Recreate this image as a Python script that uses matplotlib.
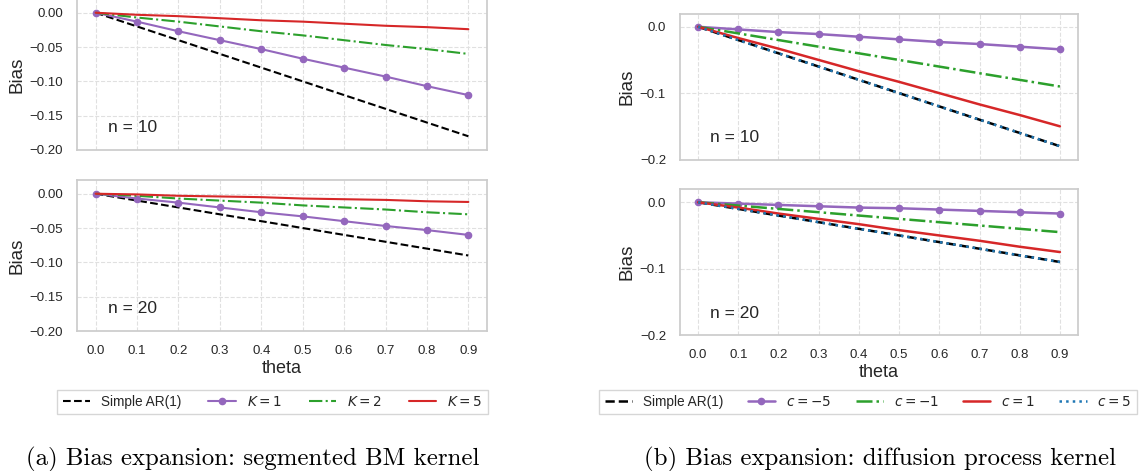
import numpy as np
import matplotlib
matplotlib.use("Agg")
import matplotlib.pyplot as plt
import seaborn as sns

# theta grid
theta = [0.0, 0.1, 0.2, 0.3, 0.4, 0.5, 0.6, 0.7, 0.8, 0.9]

# (a) segmented BM kernel
ar1_n10 = [0.0, -0.020, -0.040, -0.060, -0.080, -0.100, -0.120, -0.140, -0.160, -0.180]
k1_n10 = [0.0, -0.013, -0.027, -0.040, -0.053, -0.067, -0.080, -0.093, -0.107, -0.120]
k2_n10 = [0.0, -0.007, -0.013, -0.020, -0.027, -0.033, -0.040, -0.047, -0.053, -0.060]
k5_n10 = [0.0, -0.003, -0.005, -0.008, -0.011, -0.013, -0.016, -0.019, -0.021, -0.024]

ar1_n20 = [0.0, -0.010, -0.020, -0.030, -0.040, -0.050, -0.060, -0.070, -0.080, -0.090]
k1_n20 = [0.0, -0.007, -0.013, -0.020, -0.027, -0.033, -0.040, -0.047, -0.053, -0.060]
k2_n20 = [0.0, -0.003, -0.007, -0.010, -0.013, -0.017, -0.020, -0.023, -0.027, -0.030]
k5_n20 = [0.0, -0.001, -0.003, -0.004, -0.005, -0.007, -0.008, -0.009, -0.011, -0.012]

# (b) diffusion process kernel
cm5_n10 = [0.0, -0.004, -0.008, -0.011, -0.015, -0.019, -0.023, -0.026, -0.030, -0.034]
cm1_n10 = [0.0, -0.010, -0.020, -0.030, -0.040, -0.050, -0.060, -0.070, -0.080, -0.090]
c1_n10 = [0.0, -0.017, -0.033, -0.050, -0.067, -0.083, -0.100, -0.117, -0.133, -0.150]
c5_n10 = [0.0, -0.020, -0.040, -0.060, -0.080, -0.100, -0.120, -0.140, -0.160, -0.180]

cm5_n20 = [0.0, -0.002, -0.004, -0.006, -0.008, -0.009, -0.011, -0.013, -0.015, -0.017]
cm1_n20 = [0.0, -0.005, -0.010, -0.015, -0.020, -0.025, -0.030, -0.035, -0.040, -0.045]
c1_n20 = [0.0, -0.008, -0.017, -0.025, -0.033, -0.042, -0.050, -0.058, -0.067, -0.075]
c5_n20 = [0.0, -0.010, -0.020, -0.030, -0.040, -0.050, -0.060, -0.070, -0.080, -0.090]

sns.set_style("whitegrid")
plt.rcParams["font.family"] = ["Liberation Sans", "DejaVu Sans"]
plt.rcParams["axes.edgecolor"] = "0.8"
plt.rcParams["axes.linewidth"] = 1.25

W, H = 1140, 471
fig = plt.figure(figsize=(W / 100, H / 100), dpi=100)


def px_axes(x0, y0, x1, y1):
    # pixel box (from top-left) -> figure axes
    return fig.add_axes([x0 / W, 1 - y1 / H, (x1 - x0) / W, (y1 - y0) / H])


def style_axes(ax, yticks, fmt, label, show_x):
    ax.set_ylim(-0.2, 0.02)
    ax.set_yticks(yticks)
    ax.set_yticklabels([fmt.format(v).replace("-", "\u2212") for v in yticks])
    ax.set_xticks(theta)
    ax.set_xticklabels(["{:.1f}".format(t) for t in theta] if show_x else [])
    ax.grid(True, linestyle="--", color="0.88", linewidth=0.8)
    ax.tick_params(axis="both", labelsize=9.5, colors="0.15", length=0, pad=10)
    ax.set_ylabel("Bias", fontsize=13.5, color="0.15", labelpad=3)
    ax.text(0.075, 0.15, label, transform=ax.transAxes, fontsize=12.5,
            color="0.15", va="center")
    if show_x:
        ax.set_xlabel("theta", fontsize=13, color="0.15", labelpad=2)


# ---- (a) ----
yt_a = [0.0, -0.05, -0.10, -0.15, -0.20]
panels_a = [
    (px_axes(77, -1, 487, 150), ar1_n10, k1_n10, k2_n10, k5_n10, "n = 10", False),
    (px_axes(77, 180, 487, 331), ar1_n20, k1_n20, k2_n20, k5_n20, "n = 20", True),
]
for ax, ar, k1, k2, k5, lab, sx in panels_a:
    ax.plot(theta, ar, color="black", linestyle="--", linewidth=1.5, label="Simple AR(1)")
    ax.plot(theta, k1, color="tab:purple", marker="o", markersize=4.5, linewidth=1.5, label=r"$K = 1$")
    ax.plot(theta, k2, color="tab:green", linestyle="-.", linewidth=1.5, label=r"$K = 2$")
    ax.plot(theta, k5, color="tab:red", linewidth=1.5, label=r"$K = 5$")
    style_axes(ax, yt_a, "{:.2f}", lab, sx)

h, l = panels_a[0][0].get_legend_handles_labels()
fig.legend(h, l, loc="center", bbox_to_anchor=(272.5 / W, 1 - 402 / H), ncol=4,
           fontsize=9.8, frameon=True, fancybox=False, edgecolor="0.8",
           columnspacing=2.0, borderpad=0.4)

# ---- (b) ----
yt_b = [0.0, -0.1, -0.2]
panels_b = [
    (px_axes(680, 13.5, 1078, 159.5), cm5_n10, cm1_n10, c1_n10, c5_n10, ar1_n10, "n = 10", False),
    (px_axes(680, 189, 1078, 335), cm5_n20, cm1_n20, c1_n20, c5_n20, ar1_n20, "n = 20", True),
]
for ax, cm5, cm1, c1, c5, ar, lab, sx in panels_b:
    ax.plot(theta, ar, color="black", linestyle="--", linewidth=1.8, label="Simple AR(1)")
    ax.plot(theta, cm5, color="tab:purple", marker="o", markersize=4.5, linewidth=1.8, label=r"$c = -5$")
    ax.plot(theta, cm1, color="tab:green", linestyle="-.", linewidth=1.8, label=r"$c = -1$")
    ax.plot(theta, c1, color="tab:red", linewidth=1.8, label=r"$c = 1$")
    ax.plot(theta, c5, color="tab:blue", linestyle=":", linewidth=1.8, label=r"$c = 5$")
    style_axes(ax, yt_b, "{:.1f}", lab, sx)

h, l = panels_b[0][0].get_legend_handles_labels()
fig.legend(h, l, loc="center", bbox_to_anchor=(868 / W, 1 - 402 / H), ncol=5,
           fontsize=9.8, frameon=True, fancybox=False, edgecolor="0.8",
           columnspacing=1.8, borderpad=0.4)

# captions
fig.text(253 / W, 1 - 459 / H, "(a) Bias expansion: segmented BM kernel",
         family="cmr10", fontsize=17.9, ha="center", va="center", color="black")
fig.text(879.5 / W, 1 - 459 / H, "(b) Bias expansion: diffusion process kernel",
         family="cmr10", fontsize=17.9, ha="center", va="center", color="black")

fig.savefig("out.png", dpi=100)
